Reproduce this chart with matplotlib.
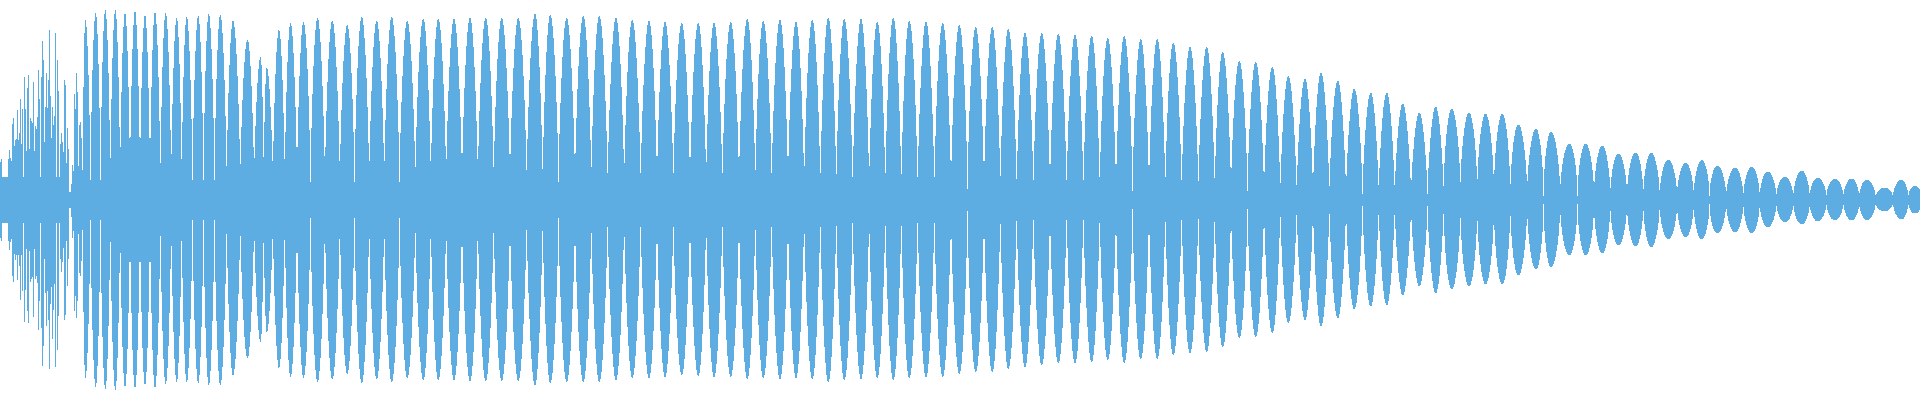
import numpy as np
import matplotlib
matplotlib.use("Agg")
from matplotlib import pyplot as plt

# Waveform, lobe by lobe.
# x = pixel column of each lobe centre, amplitudes in full scale (-1..1)
lobe_x = [1, 4, 6.7, 9.3, 13.3, 15, 17.3, 20.7, 22.7, 24.3, 28.3, 31, 33.3, 36, 38.3,
          42.7, 46.7, 49.3, 52.7, 55.7, 57.3, 61.7, 65, 67.7, 70, 72.7, 75, 76.7, 80,
          85.3, 95.7, 105.3, 115.3, 125, 135, 145, 155, 165.7, 176.7, 186.7, 198.3,
          208.7, 220.3, 233, 247.5, 260.7, 266.7, 279, 290.5, 303.5, 317.5,
          332.3, 347.3, 361.7, 376.7, 391.7, 407.3, 423.3, 438.3, 454, 470, 485.7,
          501.7, 518.3, 535, 550.3, 566.7, 583.3, 599.3, 616, 632.3, 649, 665, 681.7,
          698.3, 714, 730.7, 747.3, 763.3, 780, 796, 812.3, 828.3, 844.3, 861, 877.3,
          893.3, 909.3, 926, 942.7, 959.3, 975.7, 992.3, 1008.3, 1025, 1041.7, 1058.3,
          1075, 1091.7, 1107.7, 1124.3, 1140.7, 1157.3, 1173.3, 1190, 1206.7, 1222.7,
          1239.3, 1255.7, 1272.3, 1288.3, 1305, 1321, 1337.7, 1354.3, 1370.7, 1386.7,
          1402.7, 1419.3, 1435.7, 1451.7, 1469, 1485.5, 1502.3, 1518.3, 1536, 1551,
          1569.3, 1585.7, 1602.3, 1618.3, 1635.7, 1651, 1668.3, 1685.7, 1701.7, 1717.3,
          1735, 1751.7, 1767.7, 1785, 1801.7, 1817.7, 1835, 1851.7, 1866.7, 1884.5,
          1901.5, 1915]

lobe_max = [0.21, 0.09, 0.115, 0.25, 0.425, 0.335, 0.45, 0.51, 0.465, 0.615, 0.635, 0.45,
            0.595, 0.405, 0.65, 0.80, 0.635, 0.855, 0.465, 0.845, 0.70, 0.335, 0.64, 0.36,
            0.04, 0.175, 0.615, 0.66, 0.395,
            0.90, 0.935, 0.95, 0.95, 0.935, 0.945, 0.925, 0.94, 0.935, 0.91, 0.915, 0.92,
            0.93, 0.925, 0.895, 0.80, 0.715, 0.66, 0.85, 0.885, 0.89, 0.91,
            0.895, 0.875, 0.915, 0.895, 0.915, 0.895, 0.905, 0.905, 0.905, 0.91, 0.91,
            0.91, 0.91, 0.93, 0.925, 0.91, 0.92, 0.92, 0.91, 0.90, 0.895, 0.89, 0.885,
            0.885, 0.885, 0.89, 0.905, 0.895, 0.90, 0.89, 0.90, 0.91, 0.905, 0.905, 0.89,
            0.91, 0.895, 0.89, 0.885, 0.875, 0.865, 0.865, 0.855, 0.835, 0.835, 0.83,
            0.825, 0.82, 0.81, 0.82, 0.805, 0.805, 0.785, 0.765, 0.765, 0.74,
            0.695, 0.69, 0.665, 0.62, 0.605, 0.635, 0.595, 0.555, 0.535, 0.535,
            0.48, 0.435, 0.465, 0.455, 0.435, 0.43, 0.43, 0.375, 0.355, 0.34,
            0.28, 0.28, 0.27, 0.23, 0.235, 0.235, 0.20, 0.185, 0.1975, 0.17,
            0.16, 0.165, 0.14, 0.115, 0.145, 0.11, 0.105, 0.105, 0.10, 0.06,
            0.10, 0.07]

lobe_min = [-0.21, -0.075, -0.11, -0.25, -0.425, -0.335, -0.40, -0.50, -0.465, -0.61, -0.625,
            -0.45, -0.59, -0.435, -0.65, -0.835, -0.63, -0.85, -0.70, -0.845, -0.75, -0.36,
            -0.64, -0.435, -0.04, -0.19, -0.65, -0.615, -0.385,
            -0.89, -0.935, -0.945, -0.95, -0.935, -0.94, -0.925, -0.94, -0.92, -0.91, -0.91,
            -0.915, -0.925, -0.925, -0.875, -0.79, -0.71, -0.66, -0.84, -0.885, -0.89, -0.91,
            -0.895, -0.87, -0.915, -0.895, -0.91, -0.89, -0.90, -0.90, -0.90, -0.905, -0.905,
            -0.905, -0.905, -0.925, -0.915, -0.91, -0.91, -0.91, -0.90, -0.89, -0.89, -0.885,
            -0.875, -0.88, -0.885, -0.885, -0.895, -0.89, -0.895, -0.89, -0.895, -0.91, -0.90,
            -0.895, -0.89, -0.90, -0.89, -0.885, -0.885, -0.87, -0.86, -0.86, -0.845, -0.835,
            -0.825, -0.815, -0.815, -0.81, -0.80, -0.815, -0.795, -0.795, -0.775, -0.765,
            -0.76, -0.735, -0.69, -0.685, -0.665, -0.615, -0.60, -0.63, -0.59, -0.545, -0.53,
            -0.525, -0.475, -0.43, -0.465, -0.445, -0.43, -0.42, -0.42, -0.375, -0.345,
            -0.335, -0.275, -0.275, -0.265, -0.225, -0.23, -0.235, -0.195, -0.185, -0.195,
            -0.165, -0.16, -0.165, -0.135, -0.11, -0.12, -0.105, -0.10, -0.10, -0.0975,
            -0.055, -0.095, -0.065]

# thickness of the solid band around zero, from a given column onwards
band_from = [0, 69, 72, 300, 600, 800, 1000, 1260, 1500, 1720]
band_half = [0.115, 0.04, 0.10, 0.09, 0.075, 0.055, 0.045, 0.03, 0.02, 0.012]

WIDTH = 1920
COLOR = "#5dade2"
# lobe roundness: pointed in the loud part, rounder in the tail
round_from = [0, 1450]
round_p = [0.75, 0.55]

cx = np.array(lobe_x, dtype=float)
hi = np.array(lobe_max)
lo = np.array(lobe_min)
pw = np.array(round_p)[np.searchsorted(round_from, cx, side="right") - 1]

# one sample per pixel column, taken at the column centre
xs = np.arange(WIDTH) + 0.5
floor = np.array(band_half)[np.searchsorted(band_from, xs, side="right") - 1]

# half widths of each lobe: up to the midpoint with its neighbours
gaps = np.diff(cx)
left = np.concatenate([[max(cx[0], 1.0)], gaps / 2])
right = np.concatenate([gaps / 2, [gaps[-1] / 2]])

upper = floor.copy()
lower = -floor.copy()
for c, l, r, a, b, p in zip(cx, left, right, hi, lo, pw):
    d = xs - c
    u = np.where(d < 0, -d / l, d / r)
    m = u < 1
    s = np.cos(np.pi / 2 * u[m]) ** p
    upper[m] = np.maximum(upper[m], floor[m] + (a - floor[m]) * s)
    lower[m] = np.minimum(lower[m], -floor[m] + (b + floor[m]) * s)

cols = np.arange(WIDTH + 1)

fig = plt.figure(figsize=(19.2, 4), dpi=100)
ax = fig.add_axes([0, 0, 1, 1])
ax.fill_between(cols, np.append(lower, lower[-1]), np.append(upper, upper[-1]),
                step="post", color=COLOR, linewidth=0, antialiased=False)
ax.set_xlim(0, WIDTH)
ax.set_ylim(-1, 1)
ax.axis("off")

fig.savefig("out.png", dpi=100, facecolor="white")
